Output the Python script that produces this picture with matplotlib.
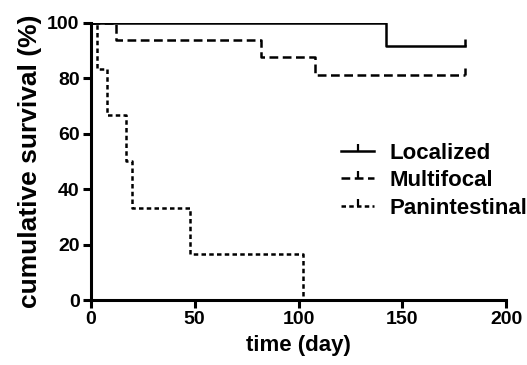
import matplotlib
matplotlib.use("Agg")
import matplotlib.pyplot as plt
from matplotlib.lines import Line2D

plt.rcParams['font.family'] = ['Liberation Sans', 'DejaVu Sans']
plt.rcParams['font.weight'] = 'bold'

# Kaplan-Meier step data (time in days, survival in %)
loc_t = [0, 142, 180]
loc_s = [100, 91.7, 91.7]

multi_t = [0, 12, 82, 108, 180]
multi_s = [100, 93.75, 87.5, 81.25, 81.25]

pan_t = [0, 3, 8, 17, 20, 48, 102]
pan_s = [100, 83.3, 66.7, 50.0, 33.3, 16.7, 0]

labels = ["Localized", "Multifocal", "Panintestinal"]
styles = ['-', (0, (3.5, 1.8)), (0, (1.8, 1.3))]

fig = plt.figure(figsize=(5.27, 3.65), dpi=100)
ax = fig.add_axes([0.172, 0.178, 0.789, 0.760])

series = [(loc_t, loc_s), (multi_t, multi_s), (pan_t, pan_s)]
for (t, s), ls in zip(series, styles):
    ax.step(t, s, where='post', color='black', lw=1.8, linestyle=ls)

# censored marks (tick up) at end of follow-up
ax.plot([loc_t[-1]], [loc_s[-1]], marker=2, color='black', ms=5, mew=1.8)
ax.plot([multi_t[-1]], [multi_s[-1]], marker=2, color='black', ms=5, mew=1.8)

ax.set_xlim(0, 200)
ax.set_ylim(0, 100)
ax.set_xticks([0, 50, 100, 150, 200])
ax.set_yticks([0, 20, 40, 60, 80, 100])
for sp in ['top', 'right']:
    ax.spines[sp].set_visible(False)
for sp in ['left', 'bottom']:
    ax.spines[sp].set_linewidth(2.2)
ax.tick_params(width=2.2, length=6, labelsize=14, pad=2)
for lab in ax.get_xticklabels() + ax.get_yticklabels():
    lab.set_fontweight('bold')

ax.set_xlabel("time (day)", fontsize=16, fontweight='bold', labelpad=5)
ax.set_ylabel("cumulative survival (%)", fontsize=19, fontweight='bold', labelpad=4)

handles = [Line2D([0], [0], color='black', lw=1.8, linestyle=ls, marker=2, ms=5, mew=1.6)
           for ls in styles]
ax.legend(handles, labels, loc='center left', bbox_to_anchor=(0.555, 0.43),
          frameon=False, handlelength=1.45, handletextpad=0.72,
          labelspacing=0.3, numpoints=1, prop={'weight': 'bold', 'size': 16})

fig.savefig("out.png", dpi=100)
